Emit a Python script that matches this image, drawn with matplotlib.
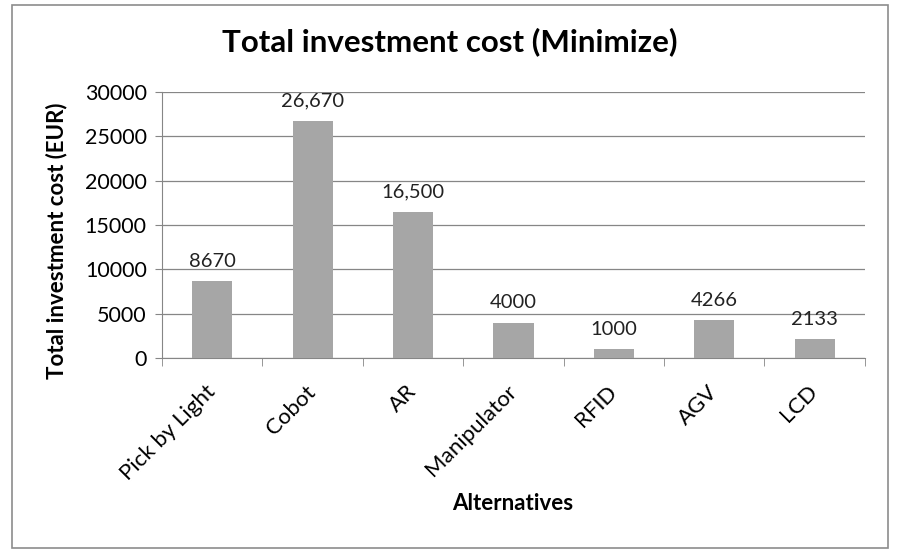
import numpy as np
import matplotlib
matplotlib.use("Agg")
import matplotlib.pyplot as plt
from matplotlib.patches import Rectangle

categories = ["Pick by Light", "Cobot", "AR", "Manipulator", "RFID", "AGV", "LCD"]
costs = [8670, 26670, 16500, 4000, 1000, 4266, 2133]
value_labels = ["8670", "26,670", "16,500", "4000", "1000", "4266", "2133"]
y_ticks = [0, 5000, 10000, 15000, 20000, 25000, 30000]

plt.rcParams["font.family"] = ["Lato", "DejaVu Sans"]

fig = plt.figure(figsize=(9, 5.5), dpi=100)
ax = fig.add_axes([0.18, 0.349, 0.781, 0.484])

# outer frame around the whole chart
fig.patches.append(Rectangle((0.013, 0.004), 0.974, 0.987, transform=fig.transFigure,
                             fill=False, edgecolor="#8c8c8c", linewidth=1.2))

x = np.arange(len(categories))
ax.bar(x, costs, width=0.4, color="#a6a6a6", zorder=3)

for xi, v, lab in zip(x, costs, value_labels):
    ax.text(xi, v + 1300, lab, ha="center", va="bottom", fontsize=14.5,
            color="#222222", clip_on=False)

ax.set_xlim(-0.5, len(categories) - 0.5)
ax.set_ylim(0, 30000)
ax.set_yticks(y_ticks)
ax.set_yticklabels([str(t) for t in y_ticks], fontsize=15.5)
ax.yaxis.grid(True, color="#868686", linewidth=0.9, zorder=0)

ax.set_xticks(x)
ax.set_xticklabels(categories, rotation=45, ha="right", va="center",
                   rotation_mode="anchor", fontsize=16)
ax.tick_params(axis="x", length=0, pad=22)
ax.set_xticks(np.arange(len(categories) + 1) - 0.5, minor=True)
ax.tick_params(axis="x", which="minor", length=6, color="#868686", direction="out")
ax.tick_params(axis="y", length=5, color="#868686", direction="out", pad=6)

for side in ["top", "right"]:
    ax.spines[side].set_visible(False)
for side in ["left", "bottom"]:
    ax.spines[side].set_color("#868686")

# axis titles sit slightly off-centre in the original, so place them on the figure
fig.text(0.063, 0.562, "Total investment cost (EUR)", rotation=90, ha="center",
         va="center", fontsize=16, fontweight="bold")
fig.text(0.57, 0.085, "Alternatives", ha="center", va="center",
         fontsize=16, fontweight="bold")
fig.text(0.5, 0.924, "Total investment cost (Minimize)", ha="center", va="center",
         fontsize=22.5, fontweight="bold")

fig.savefig("out.png", dpi=100)
